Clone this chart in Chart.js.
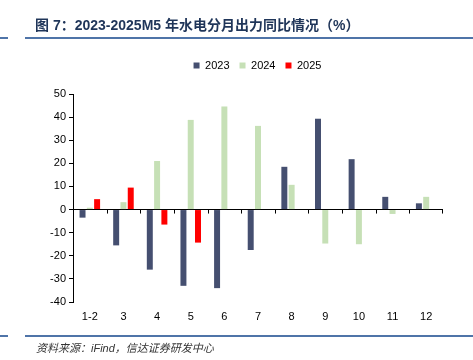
<!DOCTYPE html>
<html>
<head>
<meta charset="utf-8">
<script src="https://cdn.jsdelivr.net/npm/chart.js@4.4.0/dist/chart.umd.min.js"></script>
<style>
  body { margin: 0; background: #fff; width: 473px; height: 360px; position: relative; overflow: hidden; }
  #wrap { position: absolute; left: 0; top: 0; width: 473px; height: 360px; }
  #chart { display: block; }
  .title { position: absolute; left: 35px; top: 14px; font: bold 14px "Liberation Sans", "Noto Sans CJK SC", sans-serif; color: #1f3559; white-space: nowrap; }
  .rule { position: absolute; height: 2px; background: #4f74a8; }
  .source { position: absolute; left: 36px; top: 339px; font: italic 11px "Liberation Sans", "Noto Sans CJK SC", sans-serif; color: #333; white-space: nowrap; }
</style>
</head>
<body>
<div id="wrap"><canvas id="chart" width="473" height="360"></canvas></div>
<div class="title">图 7：2023-2025M5 年水电分月出力同比情况（%）</div>
<div class="rule" style="left:0;width:8px;top:37px"></div>
<div class="rule" style="left:25px;width:448px;top:37px"></div>
<div class="rule" style="left:0;width:8px;top:335px"></div>
<div class="rule" style="left:25px;width:448px;top:335px"></div>
<div class="source">资料来源：iFind，信达证券研发中心</div>
<script>
const months = ['1-2', '3', '4', '5', '6', '7', '8', '9', '10', '11', '12'];
const y2023 = [-3.5, -15.5, -26, -33, -34, -17.5, 18.5, 39.3, 21.8, 5.5, 2.7];
const y2024 = [0.8, 3.2, 21, 38.8, 44.6, 36.2, 10.7, -14.7, -15, -1.9, 5.5];
const y2025 = [4.5, 9.5, -6.5, -14.3, null, null, null, null, null, null, null];
const yTicks = [50, 40, 30, 20, 10, 0, -10, -20, -30, -40];

// short tick marks under the zero line, between the month groups
const zeroTicks = {
    id: 'zeroTicks',
    afterDatasetsDraw(chart) {
        const x = chart.scales.x, y = chart.scales.y;
        const y0 = y.getPixelForValue(0);
        const ctx = chart.ctx;
        ctx.save();
        ctx.strokeStyle = '#000';
        ctx.lineWidth = 1;
        ctx.beginPath();
        for (let i = 1; i <= months.length; i++) {
            const px = Math.round((x.getPixelForValue(i - 1) + x.getPixelForValue(i)) / 2) + 0.5;
            const edge = i === months.length ? x.right - 0.5 : px;
            ctx.moveTo(edge, y0);
            ctx.lineTo(edge, y0 + 4);
        }
        ctx.stroke();
        ctx.restore();
    }
};

// more room under the legend, and push it a bit to the right like the original
const legendSpot = {
    id: 'legendSpot',
    beforeLayout(chart) {
        const lg = chart.legend;
        if (lg && !lg._patched) {
            const fit = lg.fit.bind(lg);
            lg.fit = function () { fit(); this.height += 13; };
            lg._patched = true;
        }
    },
    afterLayout(chart) {
        chart.legend.left += 36;
        chart.legend.right += 36;
    }
};

new Chart(document.getElementById('chart'), {
    type: 'bar',
    data: {
        labels: months,
        datasets: [
            { label: '2023', data: y2023, backgroundColor: '#454f70' },
            { label: '2024', data: y2024, backgroundColor: '#c6e0b6' },
            { label: '2025', data: y2025, backgroundColor: '#ff0000' }
        ]
    },
    options: {
        responsive: false,
        animation: false,
        devicePixelRatio: 1,
        categoryPercentage: 0.65,
        barPercentage: 0.82,
        layout: { padding: { left: 0, right: 30, top: 50, bottom: 36 } },
        plugins: {
            tooltip: { enabled: false },
            legend: {
                position: 'top',
                labels: {
                    boxWidth: 6, boxHeight: 6, padding: 10,
                    color: '#000',
                    font: { family: 'Liberation Sans', size: 11 }
                }
            }
        },
        scales: {
            x: {
                grid: { display: false, drawTicks: false },
                border: { display: false },
                ticks: { color: '#000', font: { family: 'Liberation Sans', size: 11 }, padding: 8 },
                afterFit: s => { s.height = 22; }
            },
            y: {
                min: -40, max: 50,
                afterBuildTicks: s => { s.ticks = yTicks.map(v => ({ value: v })); },
                grid: {
                    color: c => c.tick && c.tick.value === 0 ? '#000' : 'rgba(0,0,0,0)',
                    tickColor: '#000',
                    tickLength: 4
                },
                border: { color: '#000' },
                ticks: { color: '#000', font: { family: 'Liberation Sans', size: 11 }, padding: 3 },
                afterFit: s => { s.width = 73; }
            }
        }
    },
    plugins: [zeroTicks, legendSpot]
});
</script>
</body>
</html>
